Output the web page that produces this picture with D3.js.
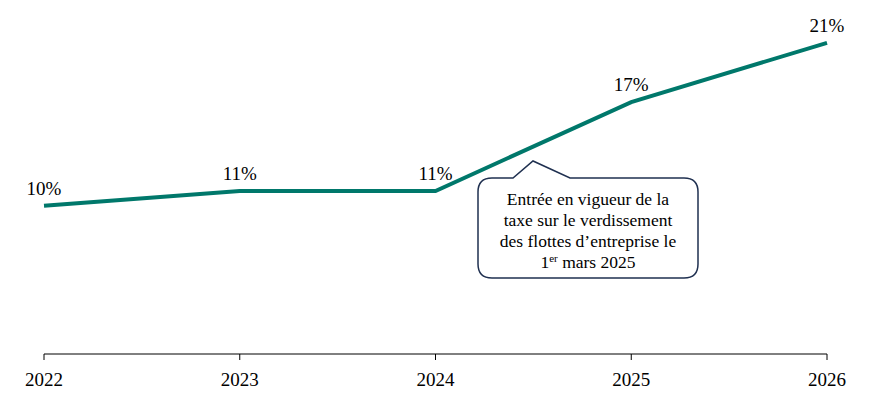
<!DOCTYPE html>
<html lang="fr">
<head>
    <meta charset="UTF-8">
    <title>Taux</title>
    <script src="https://d3js.org/d3.v7.min.js"></script>
    <style>
        body { margin: 0; background: #fff; }
        text { font-family: "Liberation Serif", "DejaVu Serif", serif; fill: #000; }
        .value-label { font-size: 19px; }
        .tick-label { font-size: 19px; }
        .note { font-size: 17.5px; }
    </style>
</head>
<body>
<script>

    const years = ["2022", "2023", "2024", "2025", "2026"];
    const values = [10, 11, 11, 17, 21];
    const valueLabels = ["10%", "11%", "11%", "17%", "21%"];
    const noteLines = ["Entrée en vigueur de la", "taxe sur le verdissement", "des flottes d\u2019entreprise le"];

    const width = 880, height = 400;

    const svg = d3.select("body").append("svg")
        .attr("width", width)
        .attr("height", height);

    const x = d3.scalePoint()
        .domain(years)
        .range([44, 827]);

    const y = d3.scaleLinear()
        .domain([0, 22])
        .range([354, 28]);

    // x axis
    const axis = svg.append("g")
        .attr("transform", `translate(0,${y(0)})`);

    axis.append("line")
        .attr("x1", x(years[0]))
        .attr("x2", x(years[years.length - 1]))
        .attr("stroke", "#000")
        .attr("stroke-width", 1);

    axis.selectAll(".tick")
        .data(years)
        .join("line")
        .attr("x1", d => x(d))
        .attr("x2", d => x(d))
        .attr("y1", 0)
        .attr("y2", 6)
        .attr("stroke", "#000");

    axis.selectAll(".tick-label")
        .data(years)
        .join("text")
        .attr("class", "tick-label")
        .attr("x", d => x(d))
        .attr("y", 32)
        .attr("text-anchor", "middle")
        .text(d => d);

    // line
    const line = d3.line()
        .x((d, i) => x(years[i]))
        .y(d => y(d));

    svg.append("path")
        .datum(values)
        .attr("fill", "none")
        .attr("stroke", "#00786b")
        .attr("stroke-width", 4)
        .attr("d", line);

    svg.selectAll(".value-label")
        .data(values)
        .join("text")
        .attr("class", "value-label")
        .attr("x", (d, i) => x(years[i]))
        .attr("y", d => y(d) - 11)
        .attr("text-anchor", "middle")
        .text((d, i) => valueLabels[i]);

    // callout
    const bx = 478, by = 178, bw = 220, bh = 100, r = 14;
    const px1 = 513, px2 = 570, tipX = 533, tipY = 161;
    const callout = `M ${bx + r} ${by}
        L ${px1} ${by} L ${tipX} ${tipY} L ${px2} ${by}
        L ${bx + bw - r} ${by} Q ${bx + bw} ${by} ${bx + bw} ${by + r}
        L ${bx + bw} ${by + bh - r} Q ${bx + bw} ${by + bh} ${bx + bw - r} ${by + bh}
        L ${bx + r} ${by + bh} Q ${bx} ${by + bh} ${bx} ${by + bh - r}
        L ${bx} ${by + r} Q ${bx} ${by} ${bx + r} ${by} Z`;

    svg.append("path")
        .attr("d", callout)
        .attr("fill", "#fff")
        .attr("stroke", "#1f3050")
        .attr("stroke-width", 1.5);

    const cx = bx + bw / 2;
    svg.selectAll(".note-line")
        .data(noteLines)
        .join("text")
        .attr("class", "note")
        .attr("x", cx)
        .attr("y", (d, i) => 205 + i * 21)
        .attr("text-anchor", "middle")
        .text(d => d);

    const last = svg.append("text")
        .attr("class", "note")
        .attr("x", cx)
        .attr("y", 205 + 3 * 21)
        .attr("text-anchor", "middle");
    last.append("tspan").text("1");
    last.append("tspan").attr("font-size", "11px").attr("dy", -6).text("er");
    last.append("tspan").attr("dy", 6).text(" mars 2025");

</script>
</body>
</html>
